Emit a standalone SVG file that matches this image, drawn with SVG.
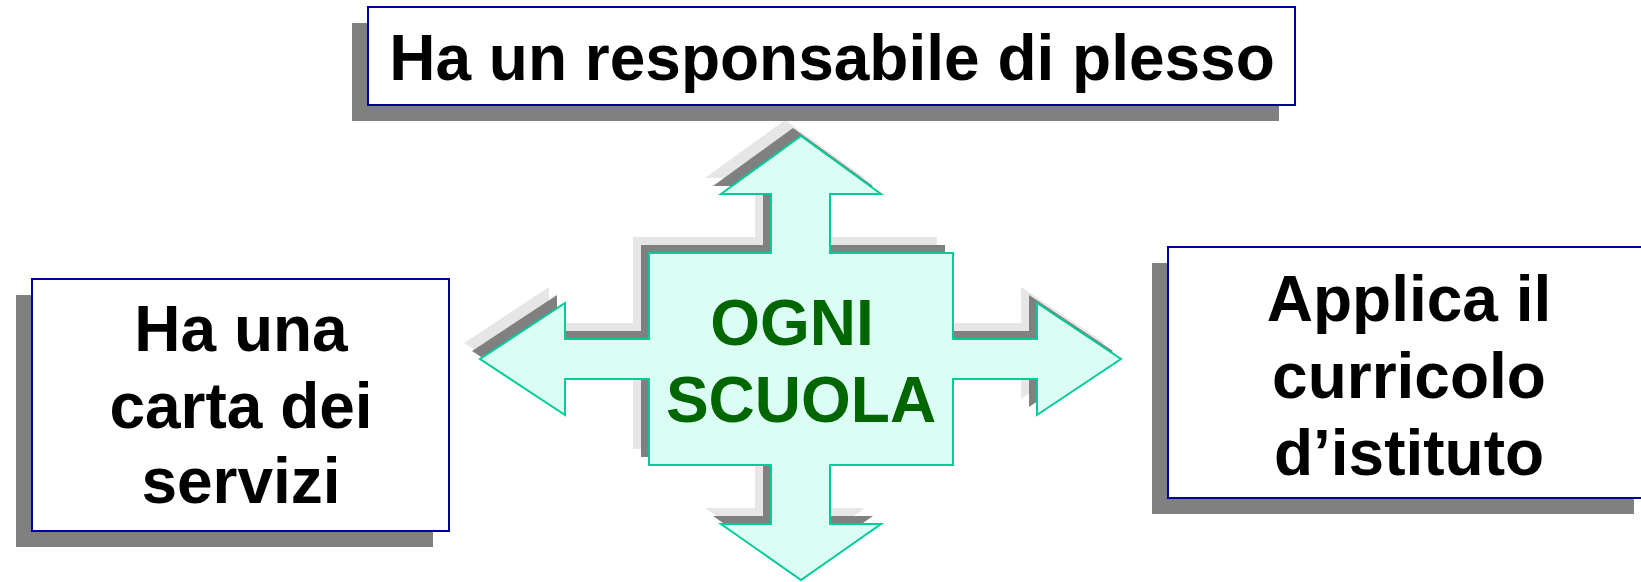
<svg xmlns="http://www.w3.org/2000/svg" width="1641" height="582" viewBox="0 0 1641 582">
<defs>
<style>
.box{fill:#ffffff;stroke:#000099;stroke-width:2}
.shadow{fill:#808080}
.t{font-family:"Liberation Sans",Arial,sans-serif;font-weight:bold;font-size:64px;fill:#000000;text-anchor:middle}
.g{font-family:"Liberation Sans",Arial,sans-serif;font-weight:bold;font-size:64px;fill:#006600;text-anchor:middle}
.arrow{fill:#DCFDF4;stroke:#00CC99;stroke-width:2;stroke-linejoin:miter}
</style>
<polygon id="cross" points="801,136 881,194 830,194 830,253 953,253 953,339 1037,339 1037,303 1121,359 1037,415 1037,379 953,379 953,465 830,465 830,524 881,524 801,580 721,524 771,524 771,465 649,465 649,379 565,379 565,415 480,359 565,303 565,339 649,339 649,253 771,253 771,194 721,194"/>
</defs>
<rect width="1641" height="582" fill="#ffffff"/>
<g id="connectors">
<use href="#cross" transform="translate(-16,-16)" fill="#E6E6E6"/>
<use href="#cross" transform="translate(-8,-8)" fill="#808080"/>
</g>
<g id="ogni-scuola">
<use href="#cross" class="arrow"/>
<text class="g" x="792" y="345">OGNI</text>
<text class="g" x="801" y="422">SCUOLA</text>
</g>
<g id="top">
<rect class="shadow" x="352" y="23" width="927" height="98"/>
<rect class="box" x="368" y="7" width="927" height="98"/>
<text class="t" x="832" y="80">Ha un responsabile di plesso</text>
</g>
<g id="left">
<rect class="shadow" x="16" y="295" width="417" height="252"/>
<rect class="box" x="32" y="279" width="417" height="252"/>
<text class="t" x="241" y="351">Ha una</text>
<text class="t" x="241" y="428">carta dei</text>
<text class="t" x="241" y="503">servizi</text>
</g>
<g id="right">
<rect class="shadow" x="1152" y="263" width="482" height="251"/>
<rect class="box" x="1168" y="247" width="482" height="251"/>
<text class="t" x="1409" y="321">Applica il</text>
<text class="t" x="1409" y="398">curricolo</text>
<text class="t" x="1409" y="475">d’istituto</text>
</g>
</svg>
